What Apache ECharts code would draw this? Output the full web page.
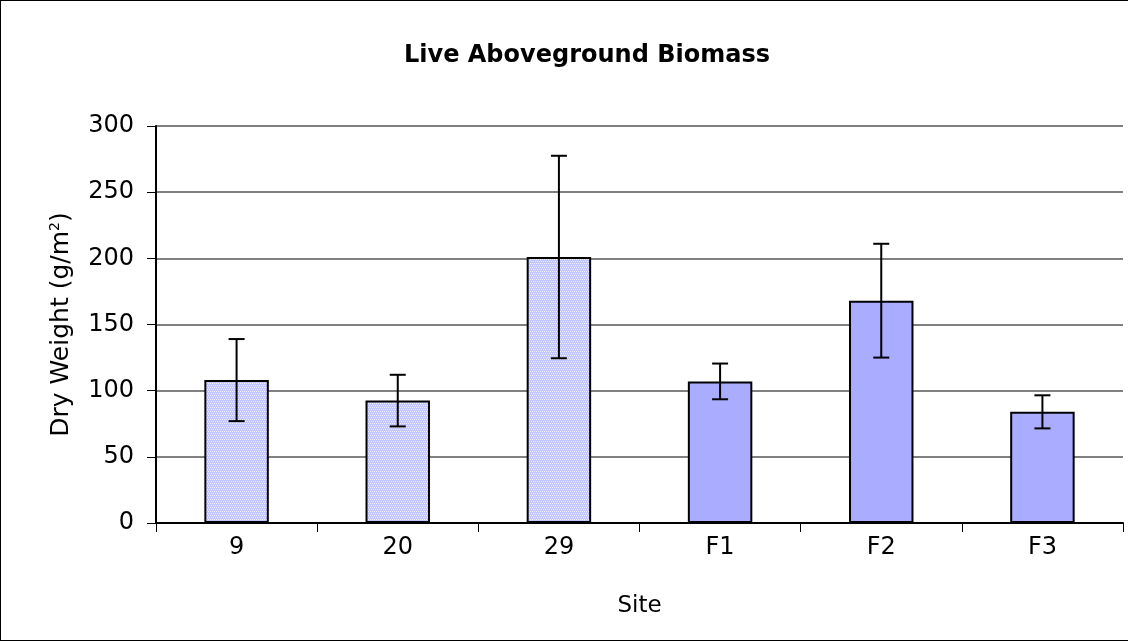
<!DOCTYPE html>
<html>
<head>
<meta charset="utf-8">
<script src="https://cdn.jsdelivr.net/npm/echarts@6/dist/echarts.min.js"></script>
<style>
  html, body { margin: 0; padding: 0; background: #fff; }
  #chart { width: 1128px; height: 641px; box-sizing: border-box; border: 1px solid #000; border-right: none; }
</style>
</head>
<body>
<div id="chart"></div>
<script>
const sites = ['9', '20', '29', 'F1', 'F2', 'F3']
const means = [108, 92.5, 201, 107, 168, 84]
const errors = [31, 19.5, 76.5, 13.5, 43, 12.5]
const yTicks = [0, 50, 100, 150, 200, 250, 300]

// fine dotted fill used by the first three sites
const makePattern = () => {
  const c = document.createElement('canvas')
  c.width = 4
  c.height = 4
  const ctx = c.getContext('2d')
  ctx.fillStyle = '#c4c6ff'
  ctx.fillRect(0, 0, 4, 4)
  ctx.fillStyle = '#eeeeff'
  ctx.fillRect(0, 0, 1, 1)
  ctx.fillRect(2, 0, 1, 1)
  ctx.fillRect(1, 2, 1, 1)
  ctx.fillRect(3, 2, 1, 1)
  return c
}
const pattern = makePattern()
const solid = '#a9acff'

const myChart = echarts.init(document.getElementById('chart'))
const font = 'DejaVu Sans, Verdana, sans-serif'

const option = {
  animation: false,
  title: {
    text: 'Live Aboveground Biomass',
    left: 398,
    top: 38,
    textStyle: { fontFamily: font, fontSize: 24, fontWeight: 'bold', color: '#000' }
  },
  grid: { left: 155, right: 5, top: 125, bottom: 117 },
  xAxis: {
    type: 'category',
    data: sites,
    name: 'Site',
    nameLocation: 'middle',
    nameGap: 72,
    nameTextStyle: { fontFamily: font, fontSize: 23, color: '#000' },
    axisLine: { lineStyle: { color: '#000', width: 2 } },
    axisTick: { show: true, length: 9, lineStyle: { color: '#000', width: 1 } },
    axisLabel: { fontFamily: font, fontSize: 24, color: '#000', margin: 13 },
    splitLine: { show: false }
  },
  yAxis: {
    type: 'value',
    min: yTicks[0],
    max: yTicks[yTicks.length - 1],
    interval: 50,
    name: 'Dry Weight (g/m{sup|2})',
    nameLocation: 'middle',
    nameGap: 82,
    nameTextStyle: {
      fontFamily: font,
      fontSize: 25,
      color: '#000',
      rich: {
        sup: { fontFamily: font, fontSize: 14, color: '#000', verticalAlign: 'top', padding: [0, 0, 12, 0] }
      }
    },
    axisLine: { show: true, lineStyle: { color: '#000', width: 2 } },
    axisTick: { show: true, length: 9, lineStyle: { color: '#000', width: 1 } },
    axisLabel: { fontFamily: font, fontSize: 24, color: '#000', margin: 22 },
    splitLine: { show: true, lineStyle: { color: '#808080', width: 2 } }
  },
  series: [
    {
      type: 'bar',
      barWidth: '40%',
      data: means.map((v, i) => ({
        value: v,
        itemStyle: {
          color: i < 3 ? { image: pattern, repeat: 'repeat' } : solid,
          borderColor: '#000',
          borderWidth: 2
        }
      })),
      z: 2
    },
    {
      type: 'custom',
      data: means.map((v, i) => [i, v - errors[i], v + errors[i]]),
      renderItem: (params, api) => {
        const lo = api.coord([api.value(0), api.value(1)])
        const hi = api.coord([api.value(0), api.value(2)])
        const half = 8
        const style = { stroke: '#000', lineWidth: 2 }
        return {
          type: 'group',
          children: [
            { type: 'line', shape: { x1: hi[0], y1: hi[1], x2: lo[0], y2: lo[1] }, style },
            { type: 'line', shape: { x1: hi[0] - half, y1: hi[1], x2: hi[0] + half, y2: hi[1] }, style },
            { type: 'line', shape: { x1: lo[0] - half, y1: lo[1], x2: lo[0] + half, y2: lo[1] }, style }
          ]
        }
      },
      z: 3
    },
    {
      // gray right edge of plot area
      type: 'line',
      data: [],
      markLine: {
        silent: true,
        symbol: 'none',
        label: { show: false },
        lineStyle: { color: '#a0a0a0', width: 2, type: 'solid' },
        data: [[{ coord: [5.5, 0] }, { coord: [5.5, 300] }]]
      }
    }
  ]
}
myChart.setOption(option)
</script>
</body>
</html>
